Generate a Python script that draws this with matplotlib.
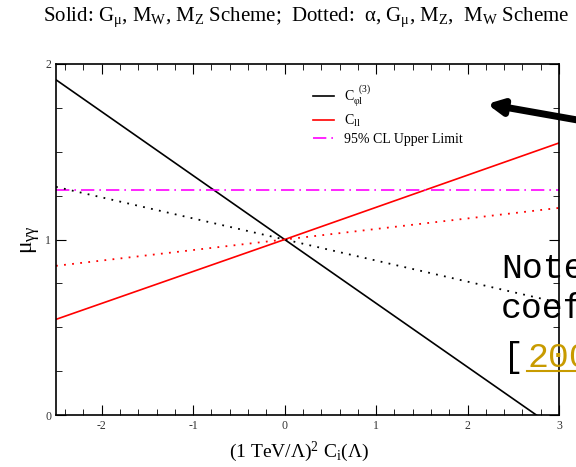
import matplotlib.pyplot as plt
from matplotlib.lines import Line2D
from matplotlib.ticker import MultipleLocator
from matplotlib.font_manager import FontProperties

plt.rcParams['font.family'] = ['Liberation Serif', 'DejaVu Serif']
plt.rcParams['mathtext.fontset'] = 'custom'
plt.rcParams['mathtext.rm'] = 'Liberation Serif'
plt.rcParams['mathtext.it'] = 'Liberation Serif'
plt.rcParams['mathtext.bf'] = 'Liberation Serif:bold'
plt.rcParams['axes.unicode_minus'] = False

# Coupling values (1 TeV/Lambda)^2 C_i and the resulting signal strength
c_vals = [-2.5, 0.0, 3.0]
mu_cphil_gmu = [1.91, 1.00, -0.09]   # solid: G_mu, M_W, M_Z scheme
mu_cll_gmu = [0.545, 1.00, 1.55]
mu_cphil_alpha = [1.30, 1.00, 0.64]  # dotted: alpha, G_mu, M_Z scheme
mu_cll_alpha = [0.85, 1.00, 1.18]
cl_upper = 1.28

fig = plt.figure(figsize=(5.76, 4.67), dpi=100)
ax = fig.add_axes([0.0972, 0.1113, 0.8733, 0.7517])

ax.plot(c_vals, mu_cphil_gmu, color='black', lw=1.2, label=r'C$_{\varphi l}^{\ \ (3)}$')
ax.plot(c_vals, mu_cll_gmu, color='red', lw=1.2, label=r'C$_{ll}$')
ax.axhline(cl_upper, color='magenta', lw=1.2, ls=(0, (8, 3, 1, 3)),
           label='95% CL Upper Limit')
ax.plot(c_vals, mu_cphil_alpha, color='black', lw=1.3, ls=(0, (1, 3.5)))
ax.plot(c_vals, mu_cll_alpha, color='red', lw=1.3, ls=(0, (1, 3.5)))

ax.set_xlim(-2.5, 3)
ax.set_ylim(0, 2)
ax.xaxis.set_major_locator(MultipleLocator(1))
ax.xaxis.set_minor_locator(MultipleLocator(0.2))
ax.yaxis.set_major_locator(MultipleLocator(1))
ax.yaxis.set_minor_locator(MultipleLocator(0.25))
ax.tick_params(which='both', direction='in', top=True, right=True,
               labelsize=8.5, labelcolor='#333333')
ax.tick_params(which='major', length=7)
ax.tick_params(which='minor', length=4)
for s in ax.spines.values():
    s.set_linewidth(1.2)

ax.set_xlabel(r'(1 TeV/$\Lambda$)$^2$ C$_i$($\Lambda$)', fontsize=14, labelpad=5)
ax.xaxis.set_label_coords(0.483, -0.07)
ax.set_ylabel(r'$\mu_{\gamma\gamma}$', fontsize=17, labelpad=2)

ax.legend(loc='upper left', bbox_to_anchor=(0.487, 0.98), frameon=False,
          fontsize=10, handlelength=1.5, handletextpad=0.7, labelspacing=0.3)

fig.text(0.531, 0.962,
         r'Solid: G$_\mu$, M$_W$, M$_Z$ Scheme;  Dotted:  $\alpha$, G$_\mu$, M$_Z$,  M$_W$ Scheme',
         ha='center', va='center', fontsize=15)

# note box pasted on the right edge
note_prop = FontProperties(family='Liberation Mono', size=25)
fig.text(501 / 576, 1 - 278 / 467, 'Note', fontproperties=note_prop, va='baseline')
fig.text(501 / 576, 1 - 318 / 467, 'coef', fontproperties=note_prop, va='baseline')
fig.text(503 / 576, 1 - 367 / 467, '[', fontproperties=note_prop, va='baseline')
fig.text(527 / 576, 1 - 367 / 467, '200', fontproperties=note_prop, va='baseline',
         color='#c89b00')
fig.add_artist(Line2D([527 / 576, 1.0], [1 - 370.5 / 467, 1 - 370.5 / 467],
                      transform=fig.transFigure, color='#c89b00', lw=1.5))

ax.annotate('', xy=(487, 467 - 104), xytext=(600, 467 - 124),
            xycoords='figure pixels', textcoords='figure pixels',
            arrowprops=dict(arrowstyle='-|>', lw=5, color='black',
                            mutation_scale=22, shrinkA=0, shrinkB=0))

fig.savefig('out.png', dpi=100)
